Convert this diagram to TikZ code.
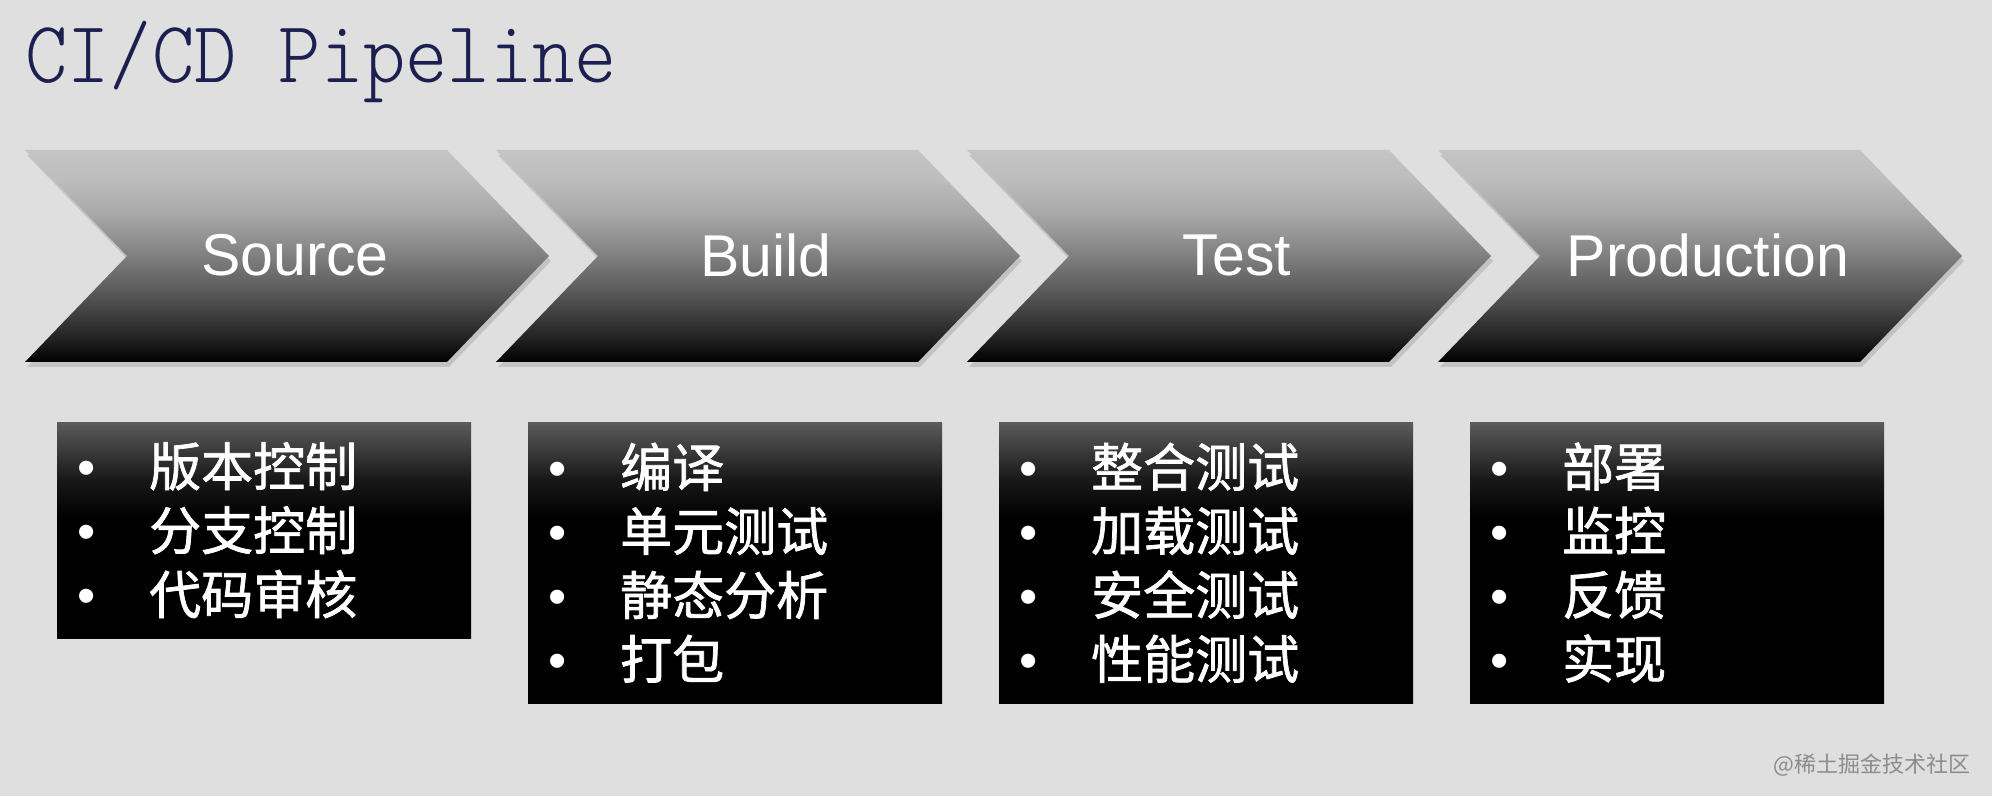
\documentclass[tikz,border=0pt]{standalone}
\usepackage{fontspec}
\setmainfont{Liberation Sans}
\newfontfamily\cjk{Noto Sans CJK SC}
\newfontfamily\cjkm{Noto Sans CJK SC}[FakeBold=1.4]
\newfontfamily\titlefont{lmmonolt10-regular.otf}
\usetikzlibrary{shadows}
\definecolor{bg}{HTML}{DFDFDF}
\definecolor{titlec}{HTML}{1C2050}
\definecolor{wmc}{HTML}{8C8C8C}
\pgfdeclareverticalshading{chevshade}{100bp}{color(0bp)=(black); color(25bp)=(black); color(30bp)=(black!88); color(40bp)=(black!68); color(50bp)=(black!50); color(60bp)=(black!34); color(68bp)=(black!26); color(75bp)=(black!23); color(100bp)=(black!23)}
\pgfdeclareverticalshading{boxA}{100bp}{color(0bp)=(black); color(53bp)=(black); color(62bp)=(black!90); color(75bp)=(black!64); color(100bp)=(black!64)}
\pgfdeclareverticalshading{boxB}{100bp}{color(0bp)=(black); color(58bp)=(black); color(65bp)=(black!90); color(75bp)=(black!64); color(100bp)=(black!64)}
\tikzset{
  chev/.style={shading=chevshade, drop shadow={shadow xshift=2pt, shadow yshift=-5pt, fill=black, opacity=0.12}},
  chevtext/.style={text=white, font=\fontsize{59}{70}\selectfont, inner sep=0pt},
  listbox/.style={anchor=north west, minimum width=414pt, inner xsep=20pt, inner ysep=0pt,
    text width=374pt, align=left, text=white, font=\fontsize{52}{64}\selectfont},
  titlestyle/.style={anchor=base west, inner sep=0pt, text=titlec, font=\titlefont\fontsize{88}{90}\selectfont}
}
\newcommand{\itm}[1]{\makebox[72pt][l]{•}{\cjkm #1}}
\begin{document}
\begin{tikzpicture}[x=1pt,y=1pt]
\fill[bg] (0,0) rectangle (1992,796);
\useasboundingbox (0,0) rectangle (1992,796);
\node[titlestyle] (title) at (25,713) {\scalebox{0.915}[1]{CI/CD Pipeline}};
\foreach \i/\nm/\lab in {0/c1/Source,1/c2/Build,2/c3/Test,3/c4/Production}{
  \pgfmathsetmacro\L{25+471*\i}
  \shade[chev] (\L,646) -- (\L+422,646) -- (\L+524,540) -- (\L+422,434) -- (\L,434) -- (\L+102,540) -- cycle;
  \node[chevtext] (\nm) at (\L+270,541) {\lab};
}
\node[listbox, shading=boxA, minimum height=216pt] (b1) at (57,374) {\itm{版本控制}\\\itm{分支控制}\\\itm{代码审核}};
\node[listbox, shading=boxB, minimum height=281pt] (b2) at (528,374) {\itm{编译}\\\itm{单元测试}\\\itm{静态分析}\\\itm{打包}};
\node[listbox, shading=boxB, minimum height=281pt] (b3) at (999,374) {\itm{整合测试}\\\itm{加载测试}\\\itm{安全测试}\\\itm{性能测试}};
\node[listbox, shading=boxB, minimum height=281pt] (b4) at (1470,374) {\itm{部署}\\\itm{监控}\\\itm{反馈}\\\itm{实现}};
\node[text=wmc, font=\cjk\fontsize{22}{22}\selectfont, inner sep=0pt] (wm) at (1872,31) {@稀土掘金技术社区};
\end{tikzpicture}
\end{document}
